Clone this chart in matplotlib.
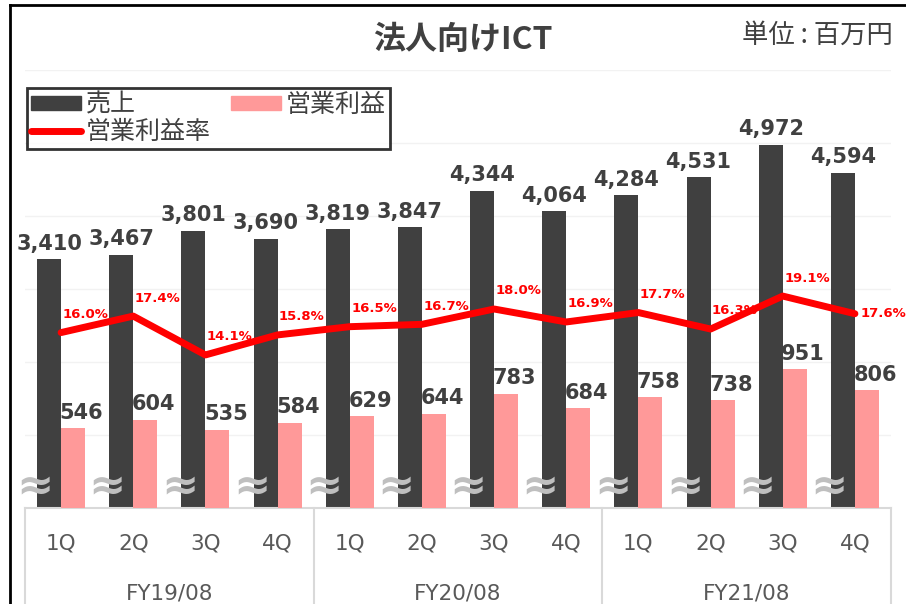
import matplotlib.pyplot as plt
from matplotlib.lines import Line2D
from matplotlib.patches import Patch
import matplotlib.transforms as mtransforms

plt.rcParams['font.family'] = ['Noto Sans CJK JP', 'DejaVu Sans']

# data
quarters = ['1Q', '2Q', '3Q', '4Q'] * 3
fiscal_years = ['FY19/08', 'FY20/08', 'FY21/08']
sales = [3410, 3467, 3801, 3690, 3819, 3847, 4344, 4064, 4284, 4531, 4972, 4594]
profit = [546, 604, 535, 584, 629, 644, 783, 684, 758, 738, 951, 806]
margin = [16.0, 17.4, 14.1, 15.8, 16.5, 16.7, 18.0, 16.9, 17.7, 16.3, 19.1, 17.6]

dark = '#404040'
pink = '#FF9999'
red = '#FF0000'
tick_color = '#595959'
line_gray = '#D9D9D9'

fig = plt.figure(figsize=(9.06, 6.04), dpi=100)
ax = fig.add_axes([25 / 906, 96 / 604, 866 / 906, 438 / 604])
ax2 = ax.twinx()
ax3 = ax.twinx()

x = list(range(len(sales)))
w = 0.333

# sales bars
ax.bar([i - w / 2 for i in x], sales, width=w, color=dark, zorder=2)
ax.set_ylim(0, 6000)
ax.set_yticks(range(0, 7000, 1000))
ax.grid(axis='y', color='#F2F2F2', linewidth=1, zorder=0)
ax.set_axisbelow(True)
for i, v in enumerate(sales):
    ax.annotate(f'{v:,}', (i - w / 2, v), xytext=(0, 4), textcoords='offset points',
                ha='center', va='bottom', fontsize=15, fontweight='bold',
                color=dark, family='DejaVu Sans')

# operating profit bars
ax2.bar([i + w / 2 for i in x], profit, width=w, color=pink, zorder=2)
ax2.set_ylim(0, 3000)
for i, v in enumerate(profit):
    ax2.annotate(f'{v:,}', (i + w / 2, v), xytext=(6, 4), textcoords='offset points',
                 ha='center', va='bottom', fontsize=15, fontweight='bold',
                 color=dark, family='DejaVu Sans')

# operating margin line
ax3.plot(x, margin, color=red, linewidth=5, solid_capstyle='round',
         solid_joinstyle='round', zorder=5)
ax3.set_ylim(1.1, 38.3)
for i, v in enumerate(margin):
    if i == len(margin) - 1:
        off = (4, 0)
    else:
        off = (1, 13)
    ax3.annotate(f'{v:.1f}%', (i, v), xytext=off, textcoords='offset points',
                 ha='left', va='center', fontsize=9.5, fontweight='bold',
                 color=red, family='DejaVu Sans')

# wavy break marks
brk = mtransforms.blended_transform_factory(ax3.transData, ax3.transAxes)
for i in x:
    ax3.text(i - 0.36, 0.05, '≈', transform=brk, ha='center', va='center',
             fontsize=32, fontweight='bold', color='#BFBFBF',
             family='DejaVu Sans', zorder=6)

for a in (ax, ax2, ax3):
    a.set_xlim(-0.5, 11.5)
    for s in a.spines.values():
        s.set_visible(False)
    a.tick_params(left=False, right=False, bottom=False,
                  labelleft=False, labelright=False, labelbottom=False)

# category axis
cat = mtransforms.blended_transform_factory(ax.transData, ax.transAxes)
ax.plot([-0.5, 11.5], [0, 0], transform=cat, color=line_gray, linewidth=1.5,
        clip_on=False)
for xb in [-0.5, 3.5, 7.5, 11.5]:
    ax.plot([xb, xb], [0, -0.25], transform=cat, color=line_gray, linewidth=1.5,
            clip_on=False)
for i, q in enumerate(quarters):
    ax.text(i, -0.08, q, transform=cat, ha='center', va='center',
            fontsize=15.5, color=tick_color, family='DejaVu Sans')
for j, fy in enumerate(fiscal_years):
    ax.text(4 * j + 1.5, -0.195, fy, transform=cat, ha='center', va='center',
            fontsize=15.5, color=tick_color, family='DejaVu Sans')

# titles
fig.text(463 / 906, 1 - 40 / 604, '法人向けICT', ha='center', va='center',
         fontsize=23, fontweight='bold', color=dark)
fig.text(893 / 906, 1 - 35 / 604, '単位 : 百万円', ha='right', va='center',
         fontsize=19, color=dark)

# legend
handles = [Patch(color=dark, label='売上'),
           Line2D([], [], color=red, linewidth=5, solid_capstyle='round', label='営業利益率'),
           Patch(color=pink, label='営業利益')]
leg = ax3.legend(handles=handles, ncol=2, loc='upper left',
                 bbox_to_anchor=(27 / 906, 1 - 88 / 604),
                 bbox_transform=fig.transFigure, fontsize=18, frameon=True,
                 fancybox=False, edgecolor='black', handlelength=2.0,
                 handleheight=0.5, handletextpad=0.2, columnspacing=0.8,
                 labelspacing=0.05, borderpad=0.15, borderaxespad=0)
leg.get_frame().set_linewidth(2)
for t in leg.get_texts():
    t.set_color(dark)

# outer frame (top and left edges visible)
fig.add_artist(Line2D([10 / 906, 10 / 906], [0, 1 - 5 / 604], color='black',
                      linewidth=2, transform=fig.transFigure))
fig.add_artist(Line2D([10 / 906, 1], [1 - 5 / 604, 1 - 5 / 604], color='black',
                      linewidth=2, transform=fig.transFigure))

fig.savefig('out.png', dpi=100)
